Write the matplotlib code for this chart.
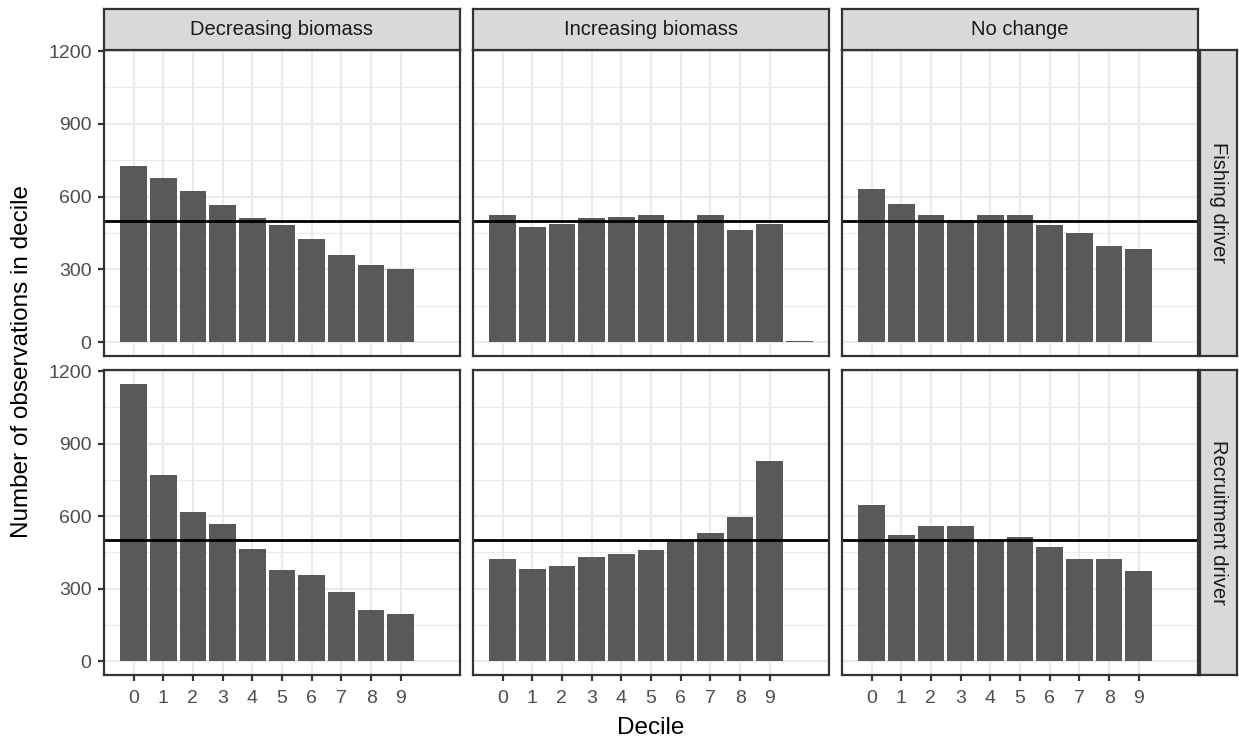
import matplotlib
matplotlib.use("Agg")
import matplotlib.pyplot as plt
import numpy as np

# --- Data ---
deciles = list(range(11))
scenarios = ["Decreasing biomass", "Increasing biomass", "No change"]
drivers = ["Fishing driver", "Recruitment driver"]

fish_decreasing = [727, 677, 625, 566, 510, 482, 426, 359, 319, 300, 0]
fish_increasing = [522, 474, 486, 510, 516, 522, 490, 522, 463, 486, 3]
fish_nochange = [632, 568, 522, 505, 526, 526, 482, 451, 395, 384, 0]
recr_decreasing = [1147, 771, 616, 568, 462, 378, 355, 284, 212, 193, 0]
recr_increasing = [422, 382, 395, 430, 442, 458, 501, 529, 597, 827, 0]
recr_nochange = [644, 522, 558, 558, 497, 512, 474, 422, 422, 371, 0]

counts = [
    [fish_decreasing, fish_increasing, fish_nochange],
    [recr_decreasing, recr_increasing, recr_nochange],
]
expected = 500
x_breaks = list(range(10))
y_breaks = [0, 300, 600, 900, 1200]
y_minor = [150, 450, 750, 1050]

plt.rcParams["font.family"] = ["Liberation Sans", "DejaVu Sans"]

W, H = 1239, 738
fig = plt.figure(figsize=(W / 100, H / 100), dpi=100)


def px_axes(left, top, right, bottom):
    return fig.add_axes([left / W, 1 - bottom / H, (right - left) / W, (bottom - top) / H])


col_edges = [(104, 460), (473, 829), (842, 1198)]
row_edges = [(50, 356), (370, 675)]
border = "#333333"
tick_size = 14
strip_size = 14.5

ymax = max(max(v) for row in counts for v in row)
ylim = (-0.05 * ymax, 1.05 * ymax)
xlim = (-0.45 - 0.05 * 10.9, 10.45 + 0.05 * 10.9)

for r, (top, bottom) in enumerate(row_edges):
    for c, (left, right) in enumerate(col_edges):
        ax = px_axes(left, top, right, bottom)
        ax.set_xlim(*xlim)
        ax.set_ylim(*ylim)
        for y in y_minor:
            ax.axhline(y, color="#EBEBEB", lw=0.8, zorder=0)
        for y in y_breaks:
            ax.axhline(y, color="#EBEBEB", lw=1.6, zorder=0)
        for x in x_breaks:
            ax.axvline(x, color="#EBEBEB", lw=1.6, zorder=0)
        ax.bar(deciles, counts[r][c], width=0.9, color="#595959", linewidth=0, zorder=2)
        ax.axhline(expected, color="black", lw=2.0, zorder=3)

        for s in ax.spines.values():
            s.set_color(border)
            s.set_linewidth(1.6)
            s.set_zorder(4)

        ax.set_xticks(x_breaks)
        ax.set_yticks(y_breaks)
        ax.tick_params(axis="both", colors=border, labelcolor="#4D4D4D",
                       labelsize=tick_size, length=4.5, width=1.6)
        ax.tick_params(axis="x", pad=6)
        ax.tick_params(axis="y", pad=4.5)
        if c != 0:
            ax.tick_params(axis="y", left=False, labelleft=False)
        if r != len(row_edges) - 1:
            ax.tick_params(axis="x", bottom=False, labelbottom=False)

        # top strips
        if r == 0:
            sax = px_axes(left, 9, right, 50)
            sax.set_facecolor("#D9D9D9")
            sax.set_xticks([])
            sax.set_yticks([])
            for s in sax.spines.values():
                s.set_color(border)
                s.set_linewidth(1.6)
            sax.text(0.5, 0.5, scenarios[c], ha="center", va="center",
                     fontsize=strip_size, color="#1A1A1A", transform=sax.transAxes)

    # right strips
    sax = px_axes(1200, top, 1237, bottom)
    sax.set_facecolor("#D9D9D9")
    sax.set_xticks([])
    sax.set_yticks([])
    for s in sax.spines.values():
        s.set_color(border)
        s.set_linewidth(1.6)
    sax.text(0.5, 0.5, drivers[r], ha="center", va="center", rotation=-90,
             fontsize=strip_size, color="#1A1A1A", transform=sax.transAxes)

fig.text(651 / W, 1 - 734 / H, "Decile", ha="center", va="baseline", fontsize=17.5)
fig.text(22 / W, 1 - 362 / H, "Number of observations in decile", ha="center",
         va="center", rotation=90, fontsize=17.5)

fig.savefig("out.png", dpi=100)
